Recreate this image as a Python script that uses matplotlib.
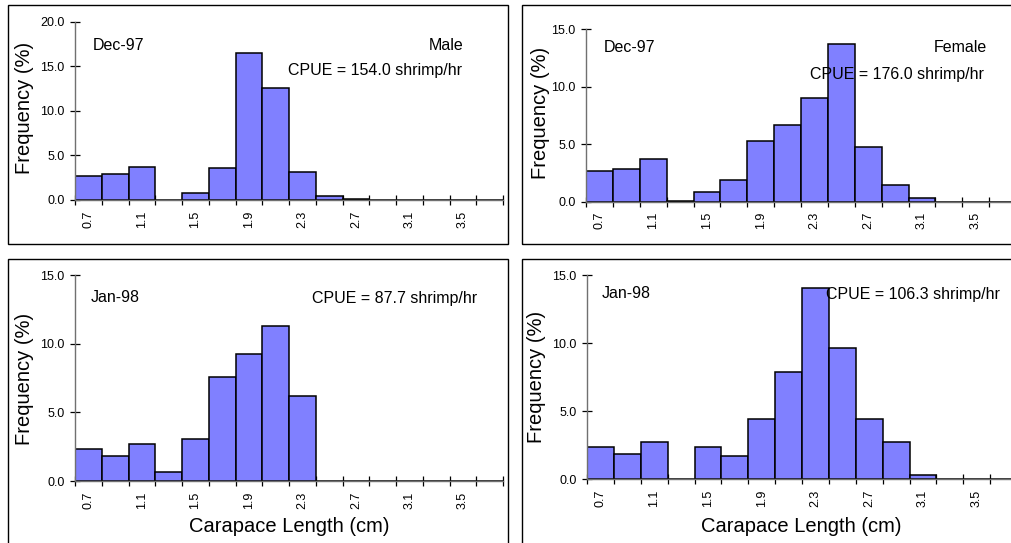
import numpy as np
import matplotlib.pyplot as plt
from matplotlib.patches import Rectangle

plt.rcParams['font.family'] = ['Liberation Sans', 'DejaVu Sans']

# ============================================================
# DATA
# ============================================================
length_classes = ['0.7', '0.9', '1.1', '1.3', '1.5', '1.7', '1.9', '2.1',
                  '2.3', '2.5', '2.7', '2.9', '3.1', '3.3', '3.5', '3.7']

male_dec97 = [2.73, 2.88, 3.70, 0.0, 0.82, 3.55, 16.45, 12.6,
              3.18, 0.49, 0.11, 0.0, 0.0, 0.0, 0.0, 0.0]
female_dec97 = [2.70, 2.84, 3.68, 0.09, 0.81, 1.86, 5.25, 6.70,
                8.99, 13.69, 4.76, 1.42, 0.29, 0.0, 0.0, 0.0]
male_jan98 = [2.35, 1.84, 2.72, 0.66, 3.06, 7.55, 9.27, 11.31,
              6.17, 0.0, 0.0, 0.0, 0.0, 0.0, 0.0, 0.0]
female_jan98 = [2.37, 1.88, 2.74, 0.0, 2.37, 1.71, 4.45, 7.85,
                14.07, 9.62, 4.45, 2.74, 0.32, 0.0, 0.0, 0.0]

months = ['Dec-97', 'Dec-97', 'Jan-98', 'Jan-98']
sexes = ['Male', 'Female', '', '']
cpue = ['CPUE = 154.0 shrimp/hr', 'CPUE = 176.0 shrimp/hr',
        'CPUE = 87.7 shrimp/hr', 'CPUE = 106.3 shrimp/hr']
y_max = [20, 15, 15, 15]

W, H = 1011, 543
fig = plt.figure(figsize=(W / 100, H / 100), dpi=100)


def fx(x):
    return x / W


def fy(y):
    return 1 - y / H


# panel boxes (pixel coords: left, top, right, bottom)
boxes = [(8, 5, 508, 244), (522, 5, 1016, 244),
         (8, 259, 508, 546), (522, 259, 1016, 546)]
for l, t, r, b in boxes:
    fig.patches.append(Rectangle((fx(l), fy(b)), fx(r - l), (b - t) / H,
                                 transform=fig.transFigure, fill=False,
                                 edgecolor='black', linewidth=1.0))

# axes positions (pixel coords: left, bottom, width, top)
axes_px = [(75, 200, 428, 21.7), (586, 201.7, 430, 29.3),
           (75, 481, 428, 275), (587, 479.3, 430, 275)]
series = [male_dec97, female_dec97, male_jan98, female_jan98]

x = np.arange(len(length_classes))

for i, (l, b, w, t) in enumerate(axes_px):
    ax = fig.add_axes([fx(l), fy(b), w / W, (b - t) / H])
    ax.bar(x, series[i], width=1.0, color='#8080FF', edgecolor='black',
           linewidth=1.1, zorder=2)
    ax.set_xlim(-0.5, len(length_classes) - 0.5)
    ax.set_ylim(0, y_max[i])
    yt = np.arange(0, y_max[i] + 1, 5)
    ax.set_yticks(yt)
    ax.set_yticklabels([f'{v:.1f}' for v in yt], fontsize=9)
    ax.set_xticks(x[::2])
    ax.set_xticklabels(length_classes[::2], rotation=90, fontsize=9)
    ax.set_xticks(np.arange(-0.5, len(length_classes)), minor=True)
    ax.tick_params(axis='x', which='major', length=0, pad=7.5)
    ax.tick_params(axis='x', which='minor', direction='inout', length=7,
                   width=0.9)
    ax.tick_params(axis='y', direction='inout', length=7, width=0.9, pad=4)
    for s in ['top', 'right']:
        ax.spines[s].set_visible(False)
    for s in ['left', 'bottom']:
        ax.spines[s].set_color('#707070')
        ax.spines[s].set_linewidth(1.0)
    ax.patch.set_alpha(0)

# annotations
fs = 11.5
fig.text(fx(93), fy(46), months[0], fontsize=fs, va='center')
fig.text(fx(463), fy(46), sexes[0], fontsize=fs, va='center', ha='right')
fig.text(fx(288), fy(71), cpue[0], fontsize=fs, va='center')

fig.text(fx(604), fy(48), months[1], fontsize=fs, va='center')
fig.text(fx(987), fy(48), sexes[1], fontsize=fs, va='center', ha='right')
fig.text(fx(810), fy(75), cpue[1], fontsize=fs, va='center')

fig.text(fx(91), fy(298), months[2], fontsize=fs, va='center')
fig.text(fx(312), fy(298), cpue[2], fontsize=fs, va='center')

fig.text(fx(602), fy(294), months[3], fontsize=fs, va='center')
fig.text(fx(826), fy(294), cpue[3], fontsize=fs, va='center')

# axis labels
for cx, cy in [(25, 108), (540, 113), (25, 379), (537, 377)]:
    fig.text(fx(cx), fy(cy), 'Frequency (%)', fontsize=14.5, rotation=90,
             ha='center', va='center')
for cx, cy in [(289, 526), (801, 527)]:
    fig.text(fx(cx), fy(cy), 'Carapace Length (cm)', fontsize=14.5,
             ha='center', va='center')

plt.savefig('out.png', dpi=100)
